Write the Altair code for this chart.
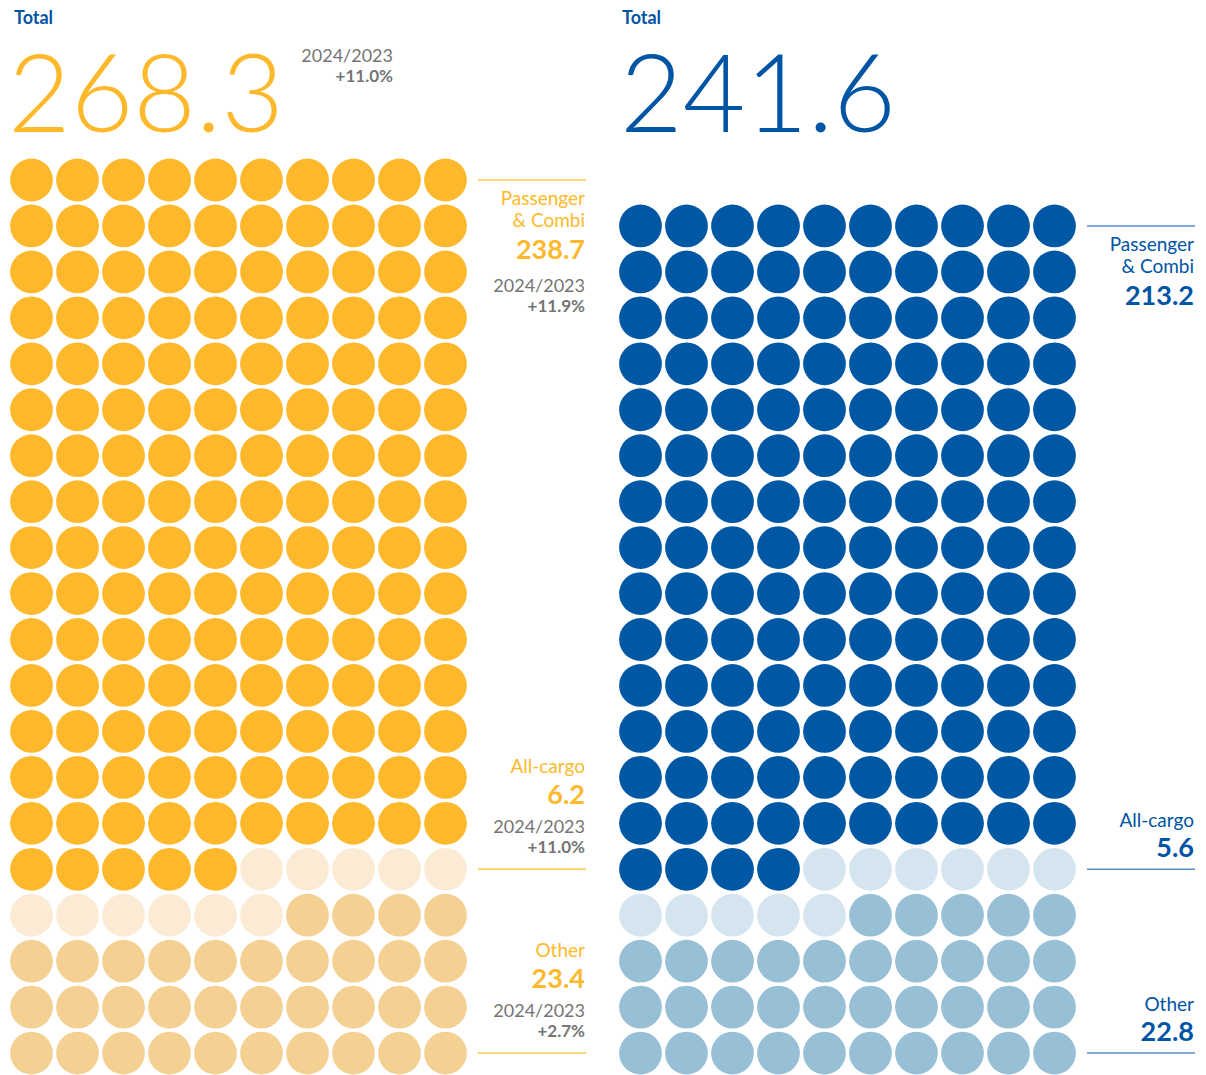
import altair as alt
import pandas as pd

# ---------------- data ----------------
years = ["2024", "2023"]
totals = ["268.3", "241.6"]
total_change_2024 = "+11.0%"
comparison_label = "2024/2023"

segments = ["Passenger & Combi", "All-cargo", "Other"]
segment_lines = [["Passenger", "& Combi"], ["All-cargo"], ["Other"]]
values_2024 = ["238.7", "6.2", "23.4"]
values_2023 = ["213.2", "5.6", "22.8"]
changes_2024 = ["+11.9%", "+11.0%", "+2.7%"]

# number of dots of each segment, as drawn (10 dots per row)
dots_2024 = [155, 11, 34]
dots_2023 = [144, 11, 35]

# ---------------- styles ----------------
FONT = "Lato"
GRAY = "#757575"
TITLE_BLUE = "#0054A4"
PALETTES = {
    "2024": {"dots": ["#FDB92B", "#FBEBD5", "#F5D093"], "text": "#FDB92B", "line": "#FCC84E"},
    "2023": {"dots": ["#0057A4", "#D4E5EF", "#97C0D6"], "text": "#0054A4", "line": "#5A8ECB"},
}
PER_ROW = 10
LAST_ROW = 19
PANEL_W, PANEL_H = 580, 1059

xscale = alt.Scale(domain=[-0.511, 12.098], nice=False, zero=False)
yscale = alt.Scale(domain=[-3.743, 19.303], nice=False, zero=False, reverse=True)


def grid(counts):
    n = sum(counts)
    first_row = LAST_ROW + 1 - n // PER_ROW
    rows = []
    i = 0
    for seg, c in zip(segments, counts):
        for _ in range(c):
            rows.append({"col": i % PER_ROW, "row": first_row + i // PER_ROW, "segment": seg})
            i += 1
    return pd.DataFrame(rows), first_row


def text_at_row(row, text, dy, size, weight, color):
    return alt.Chart(pd.DataFrame({"row": [row], "t": [text]})).mark_text(
        align="right", baseline="alphabetic", dy=dy, fontSize=size,
        fontWeight=weight, font=FONT, color=color,
    ).encode(
        x=alt.value(577),
        y=alt.Y("row:Q", scale=yscale, axis=None),
        text="t:N",
    )


def text_at_px(x, y, text, size, weight, color, align="left"):
    return alt.Chart(pd.DataFrame({"t": [text]})).mark_text(
        align=align, baseline="alphabetic", fontSize=size,
        fontWeight=weight, font=FONT, color=color,
    ).encode(x=alt.value(x), y=alt.value(y), text="t:N")


def panel(year, total, counts, values, changes, total_change, big_x, total_x):
    pal = PALETTES[year]
    df, first_row = grid(counts)
    dots = alt.Chart(df).mark_circle(size=1830, opacity=1).encode(
        x=alt.X("col:Q", scale=xscale, axis=None),
        y=alt.Y("row:Q", scale=yscale, axis=None),
        color=alt.Color("segment:N", scale=alt.Scale(domain=segments, range=pal["dots"]), legend=None),
    )
    cargo_row = first_row + counts[0] // PER_ROW
    anchor_rows = [first_row, cargo_row, LAST_ROW]
    rules = alt.Chart(pd.DataFrame({"row": anchor_rows})).mark_rule(
        color=pal["line"], strokeWidth=1.5
    ).encode(
        y=alt.Y("row:Q", scale=yscale, axis=None),
        x=alt.value(470), x2=alt.value(578),
    )
    layers = [dots, rules]
    # header
    layers.append(text_at_px(total_x, 16, "Total", 18, "bold", TITLE_BLUE))
    layers.append(text_at_px(big_x, 124, total, 108, 300, pal["text"]))
    if total_change:
        layers.append(text_at_px(385, 54, comparison_label, 18, "normal", GRAY, "right"))
        layers.append(text_at_px(385, 74, total_change, 17, "bold", GRAY, "right"))
    # top segment (text hangs below its line)
    r = anchor_rows[0]
    names = segment_lines[0]
    layers.append(text_at_row(r, names[0], 25, 19, "normal", pal["text"]))
    layers.append(text_at_row(r, names[1], 47, 19, "normal", pal["text"]))
    layers.append(text_at_row(r, values[0], 79, 27, "bold", pal["text"]))
    if changes:
        layers.append(text_at_row(r, comparison_label, 112, 18, "normal", GRAY))
        layers.append(text_at_row(r, changes[0], 132, 17, "bold", GRAY))
    # other segments (text stands above its line)
    for k in (1, 2):
        r = anchor_rows[k]
        if changes:
            offs = [-96, -65, -36, -16]
        else:
            offs = [-42, -12]
        layers.append(text_at_row(r, segment_lines[k][0], offs[0], 19, "normal", pal["text"]))
        layers.append(text_at_row(r, values[k], offs[1], 27, "bold", pal["text"]))
        if changes:
            layers.append(text_at_row(r, comparison_label, offs[2], 18, "normal", GRAY))
            layers.append(text_at_row(r, changes[k], offs[3], 17, "bold", GRAY))
    return alt.layer(*layers).properties(width=PANEL_W, height=PANEL_H)


left = panel("2024", totals[0], dots_2024, values_2024, changes_2024, total_change_2024, 0, 6)
right = panel("2023", totals[1], dots_2023, values_2023, None, None, 3, 5)

chart = alt.hconcat(left, right, spacing=29).resolve_scale(color="independent").properties(
    padding=0, background="white"
).configure_view(stroke=None)

chart.save("out.html", embed_options={"renderer": "svg", "actions": False})
